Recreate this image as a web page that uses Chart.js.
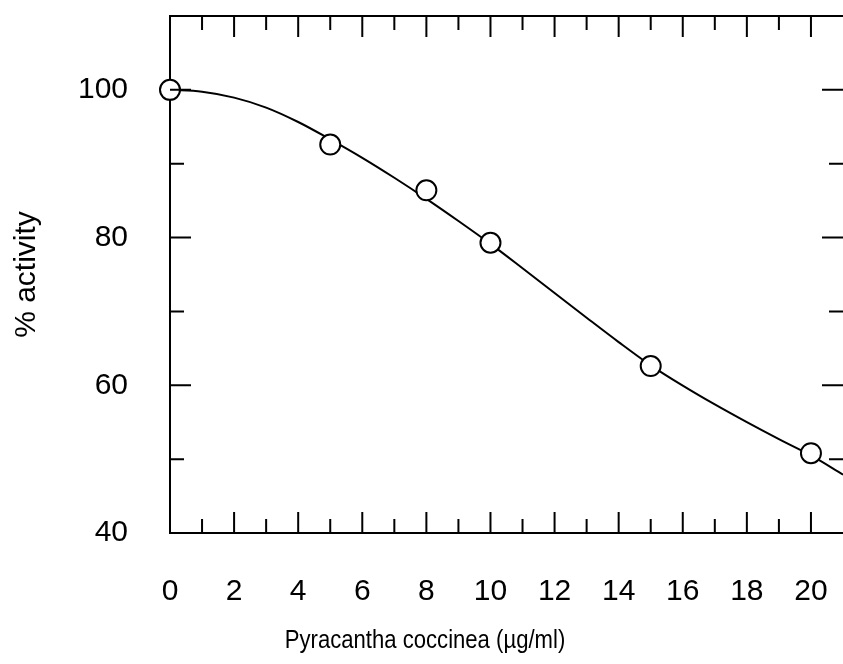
<!DOCTYPE html>
<html>
<head>
<meta charset="utf-8">
<title>% activity - Pyracantha coccinea</title>
<script src="https://cdn.jsdelivr.net/npm/chart.js@4.4.0/dist/chart.umd.min.js"></script>
<style>
  html, body { margin: 0; padding: 0; background: #fff; }
  #wrap { width: 843px; height: 664px; }
</style>
</head>
<body>
<div id="wrap"><canvas id="activityChart"></canvas></div>
<script>
// ================= DATA =================
// measured points
var doseX = [0, 5, 8, 10, 15, 20];
var activityY = [100, 92.6, 86.4, 79.3, 62.6, 50.8];

// fitted curve at each whole ug/ml
var fitX = [0, 1, 2, 3, 4, 5, 6, 7, 8, 9, 10, 11, 12, 13, 14, 15, 16, 17, 18, 19, 20, 21];
var fitY = [100.0, 99.75, 98.95, 97.6, 95.65, 93.3, 90.8, 88.1, 85.25, 82.25, 79.15,
            75.85, 72.5, 69.15, 65.85, 62.7, 59.95, 57.4, 55.0, 52.7, 50.5, 47.9];

// axes
var xTicks = [0, 2, 4, 6, 8, 10, 12, 14, 16, 18, 20];
var xMinor = [1, 3, 5, 7, 9, 11, 13, 15, 17, 19, 21];
var yTicks = [40, 60, 80, 100];
var yMinor = [50, 70, 90];

var xTitle = "Pyracantha coccinea (\u00b5g/ml)";
var yTitle = "% activity";

var FONT = "'Liberation Sans', Arial, sans-serif";

function toPoints(xs, ys) {
  return xs.map(function (x, i) { return { x: x, y: ys[i] }; });
}

function noPad(scale) {
  scale.paddingTop = 0;
  scale.paddingBottom = 0;
  scale.paddingLeft = 0;
  scale.paddingRight = 0;
}

// ================= INWARD TICKS + TOP LINE =================
var innerTicks = {
  id: "innerTicks",
  afterDraw: function (chart) {
    var ctx = chart.ctx;
    var a = chart.chartArea;
    var sx = chart.scales.x;
    var sy = chart.scales.y;
    var MAJOR = 21, MINOR = 14;

    ctx.save();
    ctx.strokeStyle = "#000";
    ctx.lineWidth = 2;
    ctx.beginPath();
    ctx.moveTo(a.left - 1, a.top);
    ctx.lineTo(a.right, a.top);

    function xTick(v, len) {
      if (v <= sx.min || v >= sx.max) return;
      var px = sx.getPixelForValue(v);
      ctx.moveTo(px, a.top);
      ctx.lineTo(px, a.top + len);
      ctx.moveTo(px, a.bottom);
      ctx.lineTo(px, a.bottom - len);
    }
    function yTick(v, len) {
      if (v <= sy.min || v >= sy.max) return;
      var py = sy.getPixelForValue(v);
      ctx.moveTo(a.left, py);
      ctx.lineTo(a.left + len, py);
      ctx.moveTo(a.right, py);
      ctx.lineTo(a.right - len, py);
    }
    xTicks.forEach(function (v) { xTick(v, MAJOR); });
    xMinor.forEach(function (v) { xTick(v, MINOR); });
    yTicks.forEach(function (v) { yTick(v, MAJOR); });
    yMinor.forEach(function (v) { yTick(v, MINOR); });
    ctx.stroke();
    ctx.restore();
  }
};

// ================= X TITLE (slightly condensed, like the original) =================
var narrowTitle = {
  id: "narrowTitle",
  afterDraw: function (chart) {
    var ctx = chart.ctx;
    ctx.save();
    ctx.translate(425, 641);
    ctx.scale(0.85, 1);
    ctx.font = "26px " + FONT;
    ctx.fillStyle = "#000";
    ctx.textAlign = "center";
    ctx.textBaseline = "middle";
    ctx.fillText(xTitle, 0, 0);
    ctx.restore();
  }
};

// ================= CHART =================
var ctx = document.getElementById("activityChart").getContext("2d");
var chart = new Chart(ctx, {
  type: "scatter",
  data: {
    datasets: [{
      label: "measured",
      data: toPoints(doseX, activityY),
      pointStyle: "circle",
      pointRadius: 10,
      pointBorderWidth: 2,
      pointBorderColor: "#000",
      pointBackgroundColor: "#fff",
      showLine: false,
      clip: false
    }, {
      label: "fit",
      data: toPoints(fitX, fitY),
      showLine: true,
      borderColor: "#000",
      borderWidth: 2,
      pointRadius: 0,
      cubicInterpolationMode: "monotone",
      fill: false
    }]
  },
  options: {
    responsive: true,
    maintainAspectRatio: false,
    animation: false,
    layout: { autoPadding: false, padding: { top: 16, right: 0, left: 0, bottom: 0 } },
    plugins: {
      legend: { display: false },
      tooltip: { enabled: false },
      title: { display: false }
    },
    scales: {
      x: {
        type: "linear",
        min: 0,
        max: 21,
        grid: { display: false, drawTicks: false },
        border: { display: true, color: "#000", width: 2 },
        afterBuildTicks: function (scale) {
          scale.ticks = xTicks.map(function (v) { return { value: v }; });
        },
        afterFit: function (scale) { scale.height = 131; noPad(scale); },
        ticks: {
          color: "#000",
          padding: 41,
          maxRotation: 0,
          font: { family: FONT, size: 30 }
        }
      },
      y: {
        type: "linear",
        min: 40,
        max: 110,
        grid: { display: false, drawTicks: false },
        border: { display: true, color: "#000", width: 2 },
        afterBuildTicks: function (scale) {
          scale.ticks = yTicks.map(function (v) { return { value: v }; });
        },
        afterFit: function (scale) { scale.width = 170; noPad(scale); },
        ticks: {
          color: "#000",
          padding: 42,
          font: { family: FONT, size: 30 }
        },
        title: {
          display: true,
          text: yTitle,
          color: "#000",
          font: { family: FONT, size: 30 },
          padding: { top: 9, bottom: 0 }
        }
      }
    }
  },
  plugins: [innerTicks, narrowTitle]
});
</script>
</body>
</html>
